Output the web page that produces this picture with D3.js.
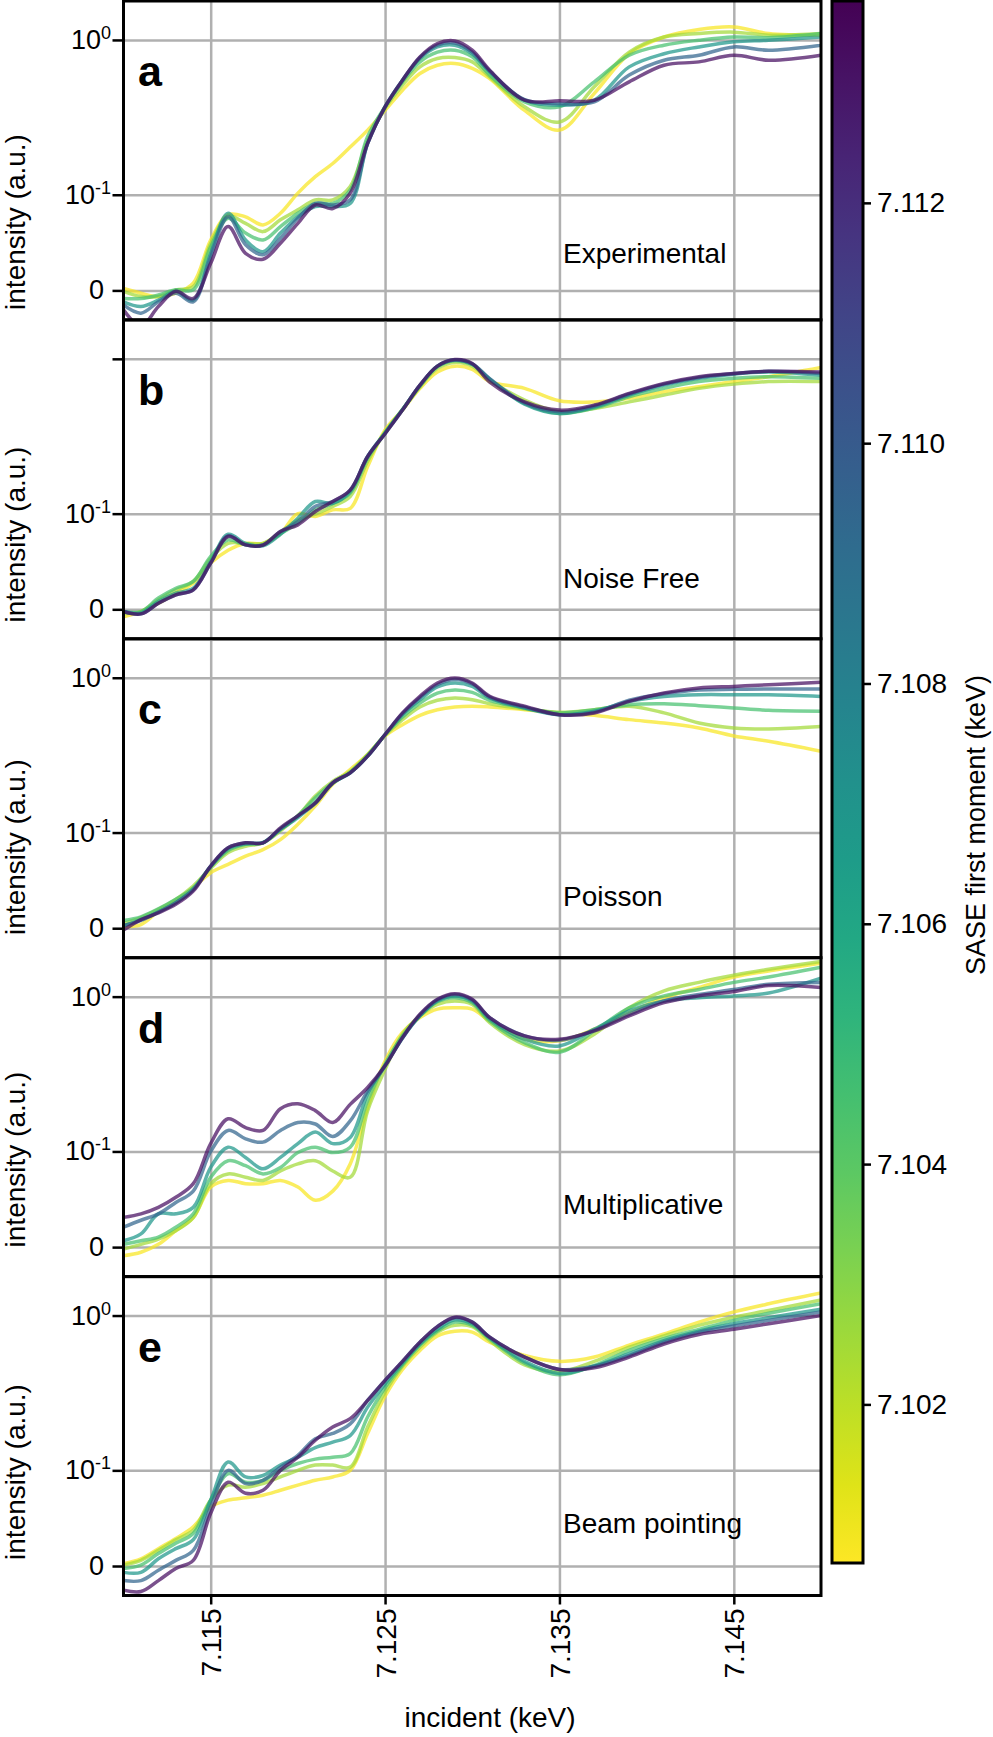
<!DOCTYPE html>
<html>
<head>
<meta charset="utf-8">
<script src="https://cdn.jsdelivr.net/npm/d3@7"></script>
<style>
  body { margin: 0; background: #fff; }
  svg { display: block; font-family: "Liberation Sans", Arial, Helvetica, sans-serif; }
</style>
</head>
<body>
<div id="chart"></div>
<script>
// incident energy grid (keV)
const energy = [7.110, 7.111, 7.112, 7.113, 7.114, 7.115, 7.116, 7.117, 7.118, 7.119,
  7.120, 7.121, 7.122, 7.123, 7.124, 7.125, 7.126, 7.127, 7.128, 7.129, 7.130, 7.131,
  7.133, 7.135, 7.137, 7.139, 7.141, 7.143, 7.145, 7.147, 7.150];

// SASE first moment of each trace (keV), one row per trace in the panel arrays below
const moments = [7.1008, 7.1025, 7.1045, 7.1068, 7.1095, 7.1132];

const panelLetters = ["a", "b", "c", "d", "e"];
const panelNames = ["Experimental", "Noise Free", "Poisson", "Multiplicative", "Beam pointing"];

const experimental = [
  [0.001, -0.0015, -0.0034, -0.0015, 0.004, 0.0376, 0.068, 0.065, 0.0545, 0.07, 0.103, 0.137, 0.17, 0.22, 0.284, 0.378, 0.503, 0.634, 0.71, 0.727, 0.68, 0.59, 0.378, 0.284, 0.481, 0.83, 1.04, 1.15, 1.19, 1.09, 1.066],
  [-0.0005, -0.0034, -0.0034, 0.0003, 0.002, 0.0344, 0.066, 0.0565, 0.0466, 0.061, 0.075, 0.091, 0.091, 0.116, 0.245, 0.389, 0.54, 0.694, 0.778, 0.788, 0.743, 0.605, 0.398, 0.32, 0.527, 0.848, 1.04, 1.09, 1.11, 1.066, 1.09],
  [-0.0045, -0.0045, -0.0025, 0.0003, 0.0003, 0.031, 0.063, 0.045, 0.0376, 0.0525, 0.07, 0.085, 0.085, 0.109, 0.258, 0.398, 0.565, 0.743, 0.848, 0.871, 0.795, 0.62, 0.427, 0.398, 0.565, 0.813, 0.932, 0.996, 1.04, 1.03, 1.09],
  [-0.0065, -0.0095, -0.0055, -0.0005, -0.0055, 0.0252, 0.07, 0.0376, 0.0266, 0.045, 0.065, 0.08, 0.08, 0.085, 0.233, 0.398, 0.578, 0.778, 0.91, 0.932, 0.83, 0.648, 0.437, 0.407, 0.437, 0.694, 0.83, 0.91, 0.975, 0.996, 1.04],
  [-0.0085, -0.014, -0.0065, -0.0015, -0.0065, 0.0224, 0.065, 0.033, 0.024, 0.0394, 0.063, 0.085, 0.0825, 0.091, 0.233, 0.398, 0.578, 0.788, 0.932, 0.96, 0.848, 0.657, 0.44, 0.417, 0.427, 0.62, 0.76, 0.813, 0.91, 0.87, 0.932],
  [-0.0117, -0.024, -0.0095, -0.0005, -0.0045, 0.0172, 0.0525, 0.0252, 0.0203, 0.0344, 0.0565, 0.0825, 0.077, 0.103, 0.233, 0.398, 0.578, 0.795, 0.953, 0.986, 0.871, 0.663, 0.437, 0.433, 0.437, 0.565, 0.71, 0.743, 0.813, 0.76, 0.813]
];

const noiseFree = [
  [-0.0042, -0.0012, 0.0033, 0.0095, 0.0165, 0.0335, 0.047, 0.055, 0.055, 0.068, 0.10, 0.095, 0.107, 0.11, 0.218, 0.374, 0.496, 0.67, 0.837, 0.906, 0.868, 0.735, 0.67, 0.565, 0.556, 0.584, 0.64, 0.685, 0.735, 0.785, 0.89],
  [-0.0022, -0.0012, 0.0054, 0.0117, 0.0178, 0.038, 0.055, 0.055, 0.055, 0.0695, 0.089, 0.099, 0.114, 0.135, 0.236, 0.364, 0.50, 0.685, 0.879, 0.953, 0.906, 0.75, 0.57, 0.485, 0.507, 0.556, 0.611, 0.67, 0.71, 0.735, 0.735],
  [-0.0012, -0.0012, 0.0064, 0.0128, 0.0178, 0.0402, 0.0595, 0.0532, 0.0532, 0.068, 0.0835, 0.107, 0.12, 0.143, 0.247, 0.36, 0.50, 0.69, 0.898, 0.975, 0.927, 0.757, 0.544, 0.473, 0.51, 0.597, 0.67, 0.735, 0.768, 0.785, 0.768],
  [-0.0012, -0.002, 0.0044, 0.0095, 0.0128, 0.035, 0.067, 0.055, 0.052, 0.067, 0.092, 0.124, 0.12, 0.147, 0.254, 0.36, 0.50, 0.697, 0.906, 0.983, 0.93, 0.76, 0.539, 0.473, 0.518, 0.611, 0.70, 0.768, 0.813, 0.837, 0.80],
  [-0.0012, -0.0025, 0.0033, 0.0084, 0.0117, 0.0335, 0.065, 0.0532, 0.0532, 0.071, 0.086, 0.114, 0.124, 0.15, 0.254, 0.355, 0.496, 0.70, 0.906, 0.985, 0.935, 0.765, 0.548, 0.485, 0.525, 0.62, 0.71, 0.778, 0.82, 0.845, 0.82],
  [-0.0012, -0.0025, 0.0033, 0.0084, 0.0117, 0.0335, 0.064, 0.0532, 0.053, 0.071, 0.081, 0.104, 0.124, 0.15, 0.254, 0.355, 0.496, 0.70, 0.906, 0.99, 0.94, 0.73, 0.556, 0.496, 0.532, 0.625, 0.716, 0.785, 0.82, 0.845, 0.837]
];

const poisson = [
  [0.001, 0.002, 0.0101, 0.0172, 0.028, 0.043, 0.0525, 0.063, 0.072, 0.0878, 0.116, 0.158, 0.222, 0.277, 0.345, 0.45, 0.527, 0.60, 0.648, 0.673, 0.68, 0.673, 0.648, 0.62, 0.60, 0.565, 0.539, 0.503, 0.45, 0.417, 0.362],
  [0.0026, 0.006, 0.0113, 0.0185, 0.0297, 0.048, 0.068, 0.077, 0.0825, 0.103, 0.134, 0.185, 0.232, 0.27, 0.345, 0.454, 0.565, 0.673, 0.737, 0.76, 0.743, 0.703, 0.654, 0.625, 0.648, 0.68, 0.62, 0.539, 0.503, 0.496, 0.513],
  [0.0043, 0.0065, 0.0116, 0.0185, 0.028, 0.0497, 0.071, 0.08, 0.0825, 0.106, 0.134, 0.18, 0.227, 0.266, 0.34, 0.457, 0.586, 0.71, 0.813, 0.848, 0.82, 0.737, 0.663, 0.62, 0.648, 0.694, 0.703, 0.685, 0.663, 0.642, 0.634],
  [0.0013, 0.0048, 0.0095, 0.016, 0.0266, 0.0497, 0.0733, 0.081, 0.083, 0.106, 0.13, 0.166, 0.225, 0.264, 0.337, 0.459, 0.605, 0.743, 0.883, 0.932, 0.89, 0.76, 0.663, 0.605, 0.634, 0.726, 0.777, 0.795, 0.795, 0.795, 0.777],
  [0.0013, 0.0043, 0.0095, 0.016, 0.0266, 0.0505, 0.0748, 0.0825, 0.0825, 0.107, 0.134, 0.164, 0.227, 0.264, 0.337, 0.459, 0.615, 0.765, 0.91, 0.975, 0.919, 0.77, 0.672, 0.605, 0.625, 0.737, 0.805, 0.848, 0.855, 0.86, 0.86],
  [-0.001, 0.0048, 0.009, 0.0148, 0.0252, 0.0505, 0.0748, 0.0825, 0.0825, 0.109, 0.134, 0.166, 0.227, 0.264, 0.337, 0.459, 0.62, 0.778, 0.932, 0.996, 0.932, 0.778, 0.68, 0.605, 0.62, 0.726, 0.813, 0.871, 0.89, 0.91, 0.94]
];

const multiplicative = [
  [-0.0048, -0.0028, 0.0015, 0.0097, 0.019, 0.048, 0.056, 0.052, 0.052, 0.056, 0.048, 0.034, 0.0435, 0.079, 0.208, 0.413, 0.615, 0.753, 0.845, 0.86, 0.845, 0.72, 0.56, 0.547, 0.643, 0.805, 0.986, 1.13, 1.30, 1.41, 1.56],
  [-0.001, 0.0015, 0.0045, 0.0097, 0.019, 0.052, 0.0645, 0.06, 0.056, 0.0685, 0.079, 0.084, 0.0685, 0.06, 0.198, 0.366, 0.60, 0.771, 0.90, 0.944, 0.90, 0.703, 0.52, 0.475, 0.60, 0.86, 1.08, 1.21, 1.33, 1.44, 1.6],
  [0.0015, 0.0035, 0.0056, 0.012, 0.022, 0.06, 0.084, 0.0763, 0.0645, 0.0737, 0.098, 0.108, 0.098, 0.108, 0.23, 0.395, 0.586, 0.771, 0.935, 0.986, 0.922, 0.72, 0.534, 0.467, 0.628, 0.86, 1.01, 1.10, 1.21, 1.30, 1.48],
  [0.0035, 0.0076, 0.022, 0.022, 0.0275, 0.0737, 0.108, 0.0895, 0.0717, 0.0895, 0.115, 0.14, 0.115, 0.128, 0.256, 0.385, 0.57, 0.771, 0.944, 1.01, 0.944, 0.738, 0.56, 0.51, 0.643, 0.824, 0.944, 0.986, 1.01, 1.05, 1.28],
  [0.012, 0.017, 0.022, 0.032, 0.0435, 0.10, 0.144, 0.125, 0.118, 0.144, 0.164, 0.16, 0.13, 0.168, 0.267, 0.385, 0.57, 0.78, 0.957, 1.03, 0.957, 0.753, 0.586, 0.552, 0.634, 0.788, 0.944, 1.03, 1.10, 1.18, 1.21],
  [0.0192, 0.022, 0.0275, 0.037, 0.052, 0.115, 0.174, 0.151, 0.144, 0.204, 0.22, 0.198, 0.164, 0.218, 0.281, 0.385, 0.573, 0.788, 0.965, 1.04, 0.965, 0.753, 0.586, 0.56, 0.628, 0.771, 0.922, 1.01, 1.07, 1.16, 1.13]
];

const beamPointing = [
  [0.0013, 0.004, 0.0103, 0.0175, 0.027, 0.047, 0.055, 0.058, 0.0612, 0.068, 0.0755, 0.083, 0.0885, 0.10, 0.186, 0.326, 0.478, 0.622, 0.76, 0.81, 0.80, 0.696, 0.58, 0.535, 0.568, 0.67, 0.78, 0.915, 1.05, 1.17, 1.35],
  [0.0005, 0.0031, 0.0092, 0.0165, 0.024, 0.055, 0.0755, 0.0725, 0.078, 0.0885, 0.10, 0.11, 0.11, 0.106, 0.206, 0.347, 0.50, 0.65, 0.797, 0.876, 0.861, 0.712, 0.51, 0.465, 0.535, 0.65, 0.76, 0.876, 0.978, 1.07, 1.23],
  [-0.0013, 0.0005, 0.0072, 0.014, 0.0214, 0.055, 0.094, 0.08, 0.083, 0.10, 0.113, 0.122, 0.126, 0.134, 0.24, 0.37, 0.51, 0.67, 0.81, 0.915, 0.876, 0.73, 0.522, 0.443, 0.505, 0.622, 0.73, 0.83, 0.937, 1.03, 1.17],
  [-0.0035, -0.0035, 0.004, 0.0103, 0.0165, 0.055, 0.116, 0.0885, 0.091, 0.11, 0.126, 0.148, 0.162, 0.18, 0.278, 0.39, 0.522, 0.68, 0.83, 0.944, 0.895, 0.74, 0.535, 0.452, 0.50, 0.595, 0.712, 0.81, 0.895, 0.97, 1.09],
  [-0.0085, -0.0085, -0.0023, 0.0031, 0.0092, 0.0469, 0.10, 0.078, 0.083, 0.106, 0.13, 0.171, 0.186, 0.216, 0.307, 0.41, 0.535, 0.696, 0.861, 0.97, 0.915, 0.746, 0.568, 0.478, 0.50, 0.58, 0.696, 0.797, 0.869, 0.937, 1.05],
  [-0.015, -0.016, -0.0085, -0.0013, 0.0031, 0.04, 0.08, 0.064, 0.068, 0.10, 0.126, 0.167, 0.206, 0.234, 0.307, 0.41, 0.535, 0.696, 0.861, 0.978, 0.915, 0.746, 0.568, 0.478, 0.489, 0.568, 0.68, 0.774, 0.83, 0.895, 1.0]
];

const xTicks = [7.115, 7.125, 7.135, 7.145];
const yTicks = [0, 0.1, 1];
const colorTicks = [7.102, 7.104, 7.106, 7.108, 7.110, 7.112];
const colorRange = [7.10068, 7.11368];

const panels = [experimental, noiseFree, poisson, multiplicative, beamPointing];

// layout
const width = 993, height = 1737;
const left = 123.5, right = 821;
const top0 = 1, panelH = 318.9;
const cbX = 832, cbW = 31, cbTop = 1, cbBottom = 1563;
const nameOffsets = [262, 268, 267, 256, 256];
const ylabelY0 = 222, ylabelStep = 312.5;
const gridColor = "#b0b0b0";

const svg = d3.select("#chart").append("svg")
  .attr("width", width)
  .attr("height", height);

const x = d3.scaleLinear().domain([7.110, 7.150]).range([left, right]);
const color = d3.scaleSequential(d3.interpolateViridis).domain([colorRange[1], colorRange[0]]);

const line = d3.line().curve(d3.curveCatmullRom.alpha(0.5));

panels.forEach((series, i) => {
  const top = top0 + i * panelH;
  const y = d3.scaleSymlog().constant(0.041).domain([-0.019, 1.68]).range([top + panelH, top]);
  const g = svg.append("g");

  g.append("clipPath").attr("id", "clip" + i)
    .append("rect")
    .attr("x", left).attr("y", top)
    .attr("width", right - left).attr("height", panelH);

  // grid
  const gx = g.append("g")
    .attr("transform", `translate(0,${top + panelH})`)
    .call(d3.axisBottom(x).tickValues(xTicks).tickSize(-panelH).tickFormat(""));
  const gy = g.append("g")
    .attr("transform", `translate(${left},0)`)
    .call(d3.axisLeft(y).tickValues(yTicks).tickSize(-(right - left)).tickFormat(""));
  [gx, gy].forEach((a) => {
    a.select(".domain").remove();
    a.selectAll("line").attr("stroke", gridColor).attr("stroke-width", 2.5);
  });

  // traces
  g.append("g").attr("clip-path", `url(#clip${i})`)
    .selectAll("path")
    .data(series)
    .enter()
    .append("path")
    .attr("fill", "none")
    .attr("stroke", (d, k) => color(moments[k]))
    .attr("stroke-width", 3.5)
    .attr("stroke-opacity", 0.72)
    .attr("stroke-linejoin", "round")
    .attr("d", (vals) => line(vals.map((v, j) => [x(energy[j]), y(v)])));

  // frame
  g.append("rect")
    .attr("x", left).attr("y", top)
    .attr("width", right - left).attr("height", panelH)
    .attr("fill", "none").attr("stroke", "#000").attr("stroke-width", 3);

  // y ticks
  const ty = g.append("g")
    .attr("transform", `translate(${left},0)`)
    .call(d3.axisLeft(y).tickValues(yTicks).tickSize(11).tickFormat(""));
  ty.select(".domain").remove();
  ty.selectAll("line").attr("stroke", "#000").attr("stroke-width", 2.5);

  yTicks.forEach((v) => {
    // panel b has no label on the top tick
    if (i === 1 && v === 1) return;
    const t = g.append("text")
      .attr("y", y(v) + 9)
      .attr("text-anchor", "end")
      .attr("font-size", 27)
      .attr("fill", "#000");
    if (v === 0) {
      t.attr("x", 104).text("0");
    } else {
      t.attr("x", 111).text("10");
      t.append("tspan")
        .attr("dy", -10)
        .attr("font-size", 18)
        .text(v === 1 ? "0" : "-1");
    }
  });

  // panel letter
  g.append("text")
    .attr("x", 138).attr("y", top + 85)
    .attr("font-size", 43).attr("font-weight", "bold")
    .text(panelLetters[i]);

  // panel name
  g.append("text")
    .attr("x", 563).attr("y", top + nameOffsets[i])
    .attr("font-size", 28)
    .text(panelNames[i]);

  // y label
  g.append("text")
    .attr("transform", `translate(25,${ylabelY0 + i * ylabelStep}) rotate(-90)`)
    .attr("text-anchor", "middle")
    .attr("font-size", 28)
    .text("intensity (a.u.)");

  // x axis on the bottom panel
  if (i === panels.length - 1) {
    const ax = g.append("g")
      .attr("transform", `translate(0,${top + panelH})`)
      .call(d3.axisBottom(x).tickValues(xTicks).tickSize(9).tickFormat(d3.format(".3f")));
    ax.select(".domain").remove();
    ax.selectAll("line").attr("stroke", "#000").attr("stroke-width", 2.5);
    ax.selectAll("text")
      .attr("transform", "rotate(-90)")
      .attr("x", -13).attr("y", 10).attr("dy", 0)
      .attr("text-anchor", "end")
      .attr("font-size", 28)
      .attr("font-family", null)
      .attr("fill", "#000");
  }
});

// x label
svg.append("text")
  .attr("x", 490).attr("y", 1727)
  .attr("text-anchor", "middle")
  .attr("font-size", 28)
  .text("incident (keV)");

// colorbar
const defs = svg.append("defs");
const grad = defs.append("linearGradient")
  .attr("id", "cbgrad")
  .attr("x1", 0).attr("y1", 0).attr("x2", 0).attr("y2", 1);
d3.range(0, 1.0001, 0.05).forEach((t) => {
  grad.append("stop")
    .attr("offset", t)
    .attr("stop-color", color(colorRange[1] - t * (colorRange[1] - colorRange[0])));
});

svg.append("rect")
  .attr("x", cbX).attr("y", cbTop)
  .attr("width", cbW).attr("height", cbBottom - cbTop)
  .attr("fill", "url(#cbgrad)")
  .attr("stroke", "#000").attr("stroke-width", 3);

const cScale = d3.scaleLinear().domain(colorRange).range([cbBottom, cbTop]);
const cAxis = svg.append("g")
  .attr("transform", `translate(${cbX + cbW},0)`)
  .call(d3.axisRight(cScale).tickValues(colorTicks).tickSize(8).tickPadding(6).tickFormat(d3.format(".3f")));
cAxis.select(".domain").remove();
cAxis.selectAll("line").attr("stroke", "#000").attr("stroke-width", 2.5);
cAxis.selectAll("text")
  .attr("font-size", 28)
  .attr("font-family", null)
  .attr("fill", "#000");

svg.append("text")
  .attr("transform", "translate(985,825) rotate(-90)")
  .attr("text-anchor", "middle")
  .attr("font-size", 27)
  .text("SASE first moment (keV)");
</script>
</body>
</html>
